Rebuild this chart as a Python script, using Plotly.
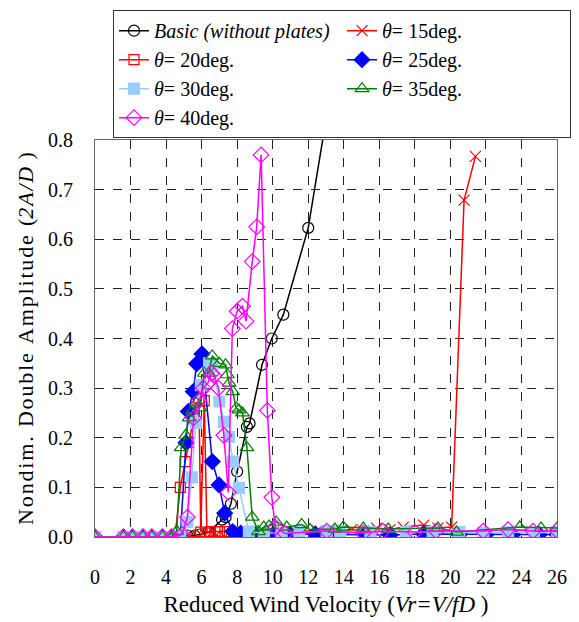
import plotly.graph_objects as go

# ---- data ----
basic_x = [0, 1.6, 2.1, 2.7, 3.2, 3.8, 4.3, 4.8, 5.2, 5.6, 5.9, 6.4, 7.15, 7.35, 7.65, 8.0, 8.55, 8.7, 9.4, 9.95, 10.6, 12.0, 13.5]
basic_y = [0, 0, 0, 0, 0, 0, 0, 0, 0.003, 0.003, 0.005, 0.01, 0.035, 0.04, 0.067, 0.132, 0.222, 0.229, 0.347, 0.4, 0.448, 0.623, 0.95]

t15_x = [0, 1.6, 2.1, 2.7, 3.2, 3.8, 4.3, 4.8, 5.3, 5.8, 6.3, 6.8, 7.3, 7.8, 8.3, 8.8, 9.3, 9.8, 10.6, 11.5, 12.5, 13.5, 14.45, 15.1, 15.85, 16.6, 17.35, 18.5, 19.3, 20.07, 20.77, 21.41]
t15_y = [0, 0, 0, 0, 0, 0, 0, 0, 0.002, 0, 0, 0.003, 0, 0.002, 0, 0.003, 0.005, 0.008, 0.01, 0.012, 0.013, 0.012, 0.015, 0.012, 0.018, 0.015, 0.02, 0.024, 0.018, 0.02, 0.679, 0.767]

t20_x = [0, 1.6, 2.1, 2.7, 3.2, 3.8, 4.3, 4.5, 4.8, 5.07, 5.3, 5.55, 5.85, 5.95, 6.15, 6.3, 6.5, 6.75, 7.0, 7.45, 8.0, 8.5]
t20_y = [0, 0, 0, 0, 0, 0, 0, 0, 0.1, 0.152, 0.19, 0.24, 0.28, 0.01, 0.275, 0.008, 0.011, 0.011, 0.011, 0.011, 0.005, 0.003]

t25_x = [0, 1.6, 2.1, 2.7, 3.2, 3.8, 4.3, 4.8, 5.12, 5.25, 5.53, 5.72, 6.02, 6.6, 6.98, 7.3, 7.75, 8.2, 9.0, 10.0, 11.0, 12.4, 13.5, 15.2, 16.6, 18.5, 20.5, 22.0, 23.5, 25.0, 26.0]
t25_y = [0, 0, 0, 0, 0, 0, 0, 0, 0.19, 0.253, 0.293, 0.349, 0.369, 0.152, 0.105, 0.048, 0.011, 0.008, 0.005, 0.004, 0.005, 0.006, 0.005, 0.005, 0.004, 0.006, 0.005, 0.005, 0.005, 0.005, 0.005]

t30_x = [0, 1.6, 2.1, 2.7, 3.2, 3.8, 4.3, 4.8, 5.2, 5.45, 5.68, 5.96, 6.42, 6.6, 7.0, 7.26, 7.54, 7.77, 8.1, 8.66, 9.5, 10.5, 11.5, 13.04, 13.8, 15.5, 17.5, 19.0, 20.5, 21.85, 23.25, 24.7, 26.0]
t30_y = [0, 0, 0, 0, 0, 0, 0, 0.005, 0.03, 0.12, 0.23, 0.306, 0.35, 0.343, 0.273, 0.232, 0.202, 0.152, 0.099, 0.011, 0.008, 0.008, 0.01, 0.012, 0.012, 0.01, 0.01, 0.01, 0.01, 0.008, 0.01, 0.008, 0.01]

t35_x = [0, 1.6, 2.1, 2.7, 3.2, 3.8, 4.3, 4.6, 4.85, 5.1, 5.3, 5.5, 5.7, 5.9, 6.15, 6.4, 6.6, 7.0, 7.35, 7.45, 7.55, 7.75, 7.95, 8.1, 8.3, 8.55, 8.85, 9.2, 9.5, 9.8, 10.2, 10.79, 11.63, 12.1, 13.5, 13.97, 15.1, 16.5, 19.3, 20.35, 23.9, 25.1, 26.0]
t35_y = [0, 0, 0, 0, 0, 0, 0, 0.012, 0.18, 0.205, 0.24, 0.255, 0.27, 0.26, 0.33, 0.33, 0.365, 0.35, 0.347, 0.327, 0.31, 0.293, 0.26, 0.256, 0.25, 0.18, 0.04, 0.011, 0.02, 0.022, 0.03, 0.02, 0.025, 0.015, 0.016, 0.02, 0.018, 0.016, 0.018, 0.01, 0.02, 0.018, 0.018]

t40_x = [0, 1.6, 2.1, 2.7, 3.2, 3.8, 4.3, 4.9, 5.2, 5.55, 5.85, 6.1, 6.35, 6.55, 6.7, 6.95, 7.25, 7.5, 7.73, 8.0, 8.3, 8.5, 8.85, 9.1, 9.35, 9.7, 9.95, 10.15, 10.7, 13.04, 15.1, 16.2, 18.0, 19.2, 21.85, 23.25, 24.65, 26.0]
t40_y = [0, 0, 0, 0, 0, 0, 0, 0.005, 0.04, 0.24, 0.275, 0.3, 0.31, 0.33, 0.325, 0.3, 0.205, 0.09, 0.42, 0.455, 0.465, 0.435, 0.555, 0.625, 0.77, 0.255, 0.08, 0.02, 0.007, 0.012, 0.008, 0.012, 0.01, 0.012, 0.012, 0.015, 0.012, 0.013]

x_ticks = list(range(0, 27, 2))
y_ticks = [0.0, 0.1, 0.2, 0.3, 0.4, 0.5, 0.6, 0.7, 0.8]

FONT = "Liberation Serif"


def spaced(s):
    return "\u200a".join(s)


y_title = spaced("Nondim. Double Amplitude (") + "<i>" + spaced("2A/D") + "</i>" + "\u200a )"
x_title = "Reduced Wind Velocity (<i>Vr=V/fD</i> )"

series = [
    ("<i>Basic (without plates)</i>", basic_x, basic_y, "black", "circle-open", 11),
    ("<i>θ</i>= 15deg.", t15_x, t15_y, "#ff0000", "x-thin-open", 11),
    ("<i>θ</i>= 20deg.", t20_x, t20_y, "#ff0000", "square-open", 10),
    ("<i>θ</i>= 25deg.", t25_x, t25_y, "#0000ff", "diamond", 12),
    ("<i>θ</i>= 30deg.", t30_x, t30_y, "#99ccff", "square", 11),
    ("<i>θ</i>= 35deg.", t35_x, t35_y, "#008000", "triangle-up-open", 12),
    ("<i>θ</i>= 40deg.", t40_x, t40_y, "#ff00ff", "diamond-open", 12),
]

fig = go.Figure()
for name, xs, ys, color, sym, size in series:
    fig.add_trace(go.Scatter(
        x=xs, y=ys, name=name, mode="lines+markers",
        line=dict(color=color, width=1.5),
        marker=dict(symbol=sym, size=size, color=color,
                    line=dict(color=color, width=1.2)),
        cliponaxis=True,
    ))

# the page body adds an 8px margin, so the figure is 8px smaller on each side
fig.update_layout(
    width=571, height=614,
    margin=dict(l=87, r=22, t=132, b=85, autoexpand=False),
    paper_bgcolor="white", plot_bgcolor="white",
    font=dict(family=FONT, size=20, color="black"),
    showlegend=True,
    legend=dict(
        orientation="h", x=0.039, y=1.327, xanchor="left", yanchor="top",
        entrywidth=183, entrywidthmode="pixels",
        bgcolor="white", bordercolor="#333333", borderwidth=1,
        font=dict(family=FONT, size=20), tracegroupgap=0,
        itemwidth=30,
    ),
    xaxis=dict(
        range=[0, 26], tickvals=x_ticks, ticktext=[str(v) for v in x_ticks],
        showgrid=True, gridcolor="#222222", griddash="dash", gridwidth=1,
        showline=True, linecolor="#666666", linewidth=1, mirror=True,
        zeroline=False, ticks="outside", ticklen=22, tickcolor="rgba(0,0,0,0)",
        automargin=False,
        title=dict(text=x_title, font=dict(size=23), standoff=8),
        tickfont=dict(size=20),
    ),
    yaxis=dict(
        range=[0, 0.8], tickvals=y_ticks, ticktext=[f"{v:.1f}" for v in y_ticks],
        showgrid=True, gridcolor="#222222", griddash="dash", gridwidth=1,
        showline=True, linecolor="#666666", linewidth=1, mirror=True,
        zeroline=False, ticks="outside", ticklen=17, tickcolor="rgba(0,0,0,0)",
        automargin=False,
        title=dict(text=y_title, font=dict(size=22), standoff=8),
        tickfont=dict(size=20),
    ),
)

fig.write_html("out.html")
